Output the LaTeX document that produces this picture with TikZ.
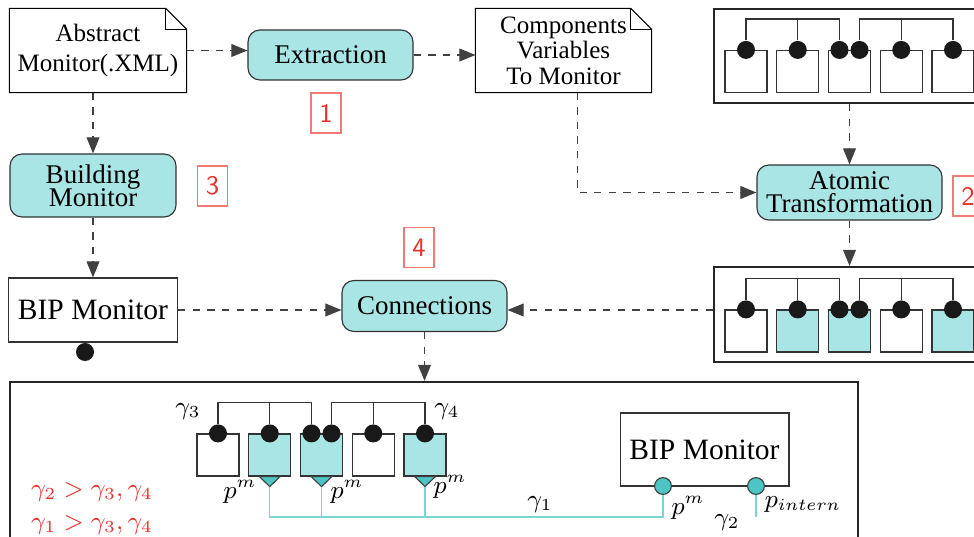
\documentclass[tikz,border=0pt]{standalone}
\usepackage[no-math]{fontspec}
\setmainfont{Liberation Serif}
\usetikzlibrary{arrows.meta, positioning}

\definecolor{procfill}{HTML}{A8E5E4}
\definecolor{portfill}{HTML}{4DC5C4}
\definecolor{wirec}{HTML}{7AD5D5}
\definecolor{numred}{HTML}{E8302A}
\definecolor{numline}{HTML}{F07A78}

\newcommand{\procfont}{\fontsize{9.6}{8.1}\selectfont\lineskiplimit=-20pt\relax}
\newcommand{\absfont}{\fontsize{8.9}{10.7}\selectfont}
\newcommand{\varfont}{\fontsize{8.9}{9.1}\selectfont\lineskiplimit=-20pt\relax}
\newcommand{\bipfont}{\fontsize{10.5}{12}\selectfont}
\newcommand{\numfont}{\fontsize{9.5}{10}\selectfont\sffamily}
\newcommand{\lblfont}{\fontsize{9.2}{11}\selectfont}

\begin{document}
\begin{tikzpicture}[x=0.0125cm, y=-0.0125cm,
    proc/.style={rectangle, rounded corners=0.15cm, draw=black!80, fill=procfill,
                 inner sep=1pt, align=center, font=\procfont},
    note/.style={rectangle, inner sep=1pt, align=center},
    bipbox/.style={rectangle, draw=black!80, minimum width=2.0625cm, font=\bipfont},
    num/.style={rectangle, draw=numline, text=numred, minimum width=0.375cm,
                minimum height=0.5cm, inner sep=0pt, font=\numfont},
    flow/.style={-{Triangle[length=2mm, width=1.6mm]}, draw=black!75,
                 dash pattern=on 2.6pt off 2.6pt},
    group/.style={rectangle, draw=black!85, line width=0.8pt},
    comp/.style={rectangle, draw=black!80, minimum size=0.525cm, inner sep=0pt},
    pin/.style={circle, fill=black!90, minimum size=0.225cm, inner sep=0pt},
    oport/.style={draw=black!75, fill=portfill},
    iport/.style={circle, draw=black!75, fill=portfill, minimum size=0.21cm, inner sep=0pt},
    wire/.style={draw=wirec, line width=0.5pt},
    bus/.style={draw=black!80, line width=0.5pt},
    lbl/.style={inner sep=0pt, font=\lblfont}
]
\useasboundingbox (0,0) rectangle (974,537);

% Inputs
\node[note, minimum width=2.2cm, minimum height=1.0375cm, font=\absfont] (abs) at (98,50.5)
      {Abstract\\Monitor(.XML)};
\draw (abs.south west) -- (abs.north west) -- ([xshift=-0.26cm]abs.north east)
      -- ([yshift=-0.26cm]abs.north east) -- (abs.south east) -- cycle;
\draw ([xshift=-0.26cm]abs.north east) |- ([yshift=-0.26cm]abs.north east);

\node[note, minimum width=2.1875cm, minimum height=1.0375cm, font=\varfont] (cvar) at (563.5,50.5)
      {Components\\Variables\\To Monitor};
\draw (cvar.south west) -- (cvar.north west) -- ([xshift=-0.26cm]cvar.north east)
      -- ([yshift=-0.26cm]cvar.north east) -- (cvar.south east) -- cycle;
\draw ([xshift=-0.26cm]cvar.north east) |- ([yshift=-0.26cm]cvar.north east);

% Steps
\node[proc, minimum width=2.0625cm, minimum height=0.625cm] (ext) at (330.5,55) {Extraction};
\node[proc, minimum width=2.3125cm, minimum height=0.6875cm] (atom) at (849.5,192.5) {Atomic\\Transformation};
\node[proc, minimum width=2.075cm, minimum height=0.7875cm] (build) at (93,185.5) {Building\\Monitor};
\node[proc, minimum width=2.0625cm, minimum height=0.6375cm] (conn) at (424.5,306) {Connections};

\node[num] (n1) at (326,113) {1};
\node[num] (n2) at (968,196) {2};
\node[num] (n3) at (212.5,186) {3};
\node[num] (n4) at (419,247.5) {4};

\node[bipbox, minimum height=0.8cm] (bipL) at (93,310) {BIP Monitor};
\node[pin] (bipLp) at (85,352) {};

% Component groups
\node[group, minimum width=3.3875cm, minimum height=1.175cm] (grpA) at (849.5,56) {};
\node[group, minimum width=3.3875cm, minimum height=1.1875cm] (grpB) at (849.5,314.5) {};
\node[group, minimum width=10.6cm, minimum height=2.225cm] (grpC) at (434,471) {};

\foreach \g/\cx/\cy/\fb in {a/746/71.5/white, b/746/331/procfill, c/218/455/procfill} {
  \foreach \i/\f in {1/white, 2/\fb, 3/\fb, 4/white, 5/\fb}
    \node[comp, fill=\f] (\g\i) at ({\cx+51.75*(\i-1)}, \cy) {};
  \node[pin] (\g p1) at (\g1.north) {};
  \node[pin] (\g p2) at (\g2.north) {};
  \node[pin] (\g p3) at ([xshift=-0.125cm]\g3.north) {};
  \node[pin] (\g p4) at ([xshift=0.125cm]\g3.north) {};
  \node[pin] (\g p5) at (\g4.north) {};
  \node[pin] (\g p6) at (\g5.north) {};
  \draw[bus] (\g p1) -- ++(0,-31) -| (\g p3);
  \draw[bus] (\g p2) -- ++(0,-31);
  \draw[bus] (\g p4) -- ++(0,-31) -| (\g p6);
  \draw[bus] (\g p5) -- ++(0,-31);
}

% Monitor inside the result
\node[bipbox, minimum height=0.9125cm] (bipB) at (704.5,449.5) {BIP Monitor};
\coordinate (jn) at (663,517);
\foreach \i in {2,3,5} {
  \draw[oport] ([xshift=-0.13cm]c\i.south) -- ([xshift=0.13cm]c\i.south)
        -- ([yshift=-0.125cm]c\i.south) -- cycle;
  \coordinate (q\i) at ([yshift=-0.125cm]c\i.south);
}
\draw[wire] (q2) |- (jn) -- (663,486);
\draw[wire] (q3) -- (q3 |- jn);
\draw[wire] (q5) -- (q5 |- jn);
\draw[wire] (756,486) -- (756,517);
\node[iport] (mp1) at (663,486) {};
\node[iport] (mp2) at (756,486) {};

% Labels
\node[lbl] (g3) at (188,412) {$\gamma_3$};
\node[lbl] (g4) at (447,412) {$\gamma_4$};
\node[lbl] (pm1) at (240,492) {$p^m$};
\node[lbl] (pm2) at (347,492) {$p^m$};
\node[lbl] (pm3) at (450,487) {$p^m$};
\node[lbl] (pm4) at (688,508) {$p^m$};
\node[lbl] (g1) at (540,505) {$\gamma_1$};
\node[lbl] (g2) at (727,523) {$\gamma_2$};
\node[lbl] (pint) at (803,505) {$p_{intern}$};
\node[lbl, text=numred] (prio2) at (92,492) {$\gamma_2 > \gamma_3, \gamma_4$};
\node[lbl, text=numred] (prio1) at (92,525) {$\gamma_1 > \gamma_3, \gamma_4$};

% Flow
\draw[flow] (abs.east) -- (abs.east -| ext.west);
\draw[flow] (ext.east) -- (ext.east -| cvar.west);
\draw[flow] (build |- abs.south) -- (build.north);
\draw[flow] (build) -- (bipL);
\draw[flow] ([xshift=0.17cm]cvar.south) |- (atom.west);
\draw[flow] (grpA.south -| atom) -- (atom.north);
\draw[flow] (atom) -- (grpB);
\draw[flow] (bipL.east) -- (bipL.east -| conn.west);
\draw[flow] (grpB.west |- bipL.east) -- (conn.east |- bipL.east);
\draw[flow] (conn.south) -- (conn.south |- grpC.north);
\end{tikzpicture}
\end{document}
